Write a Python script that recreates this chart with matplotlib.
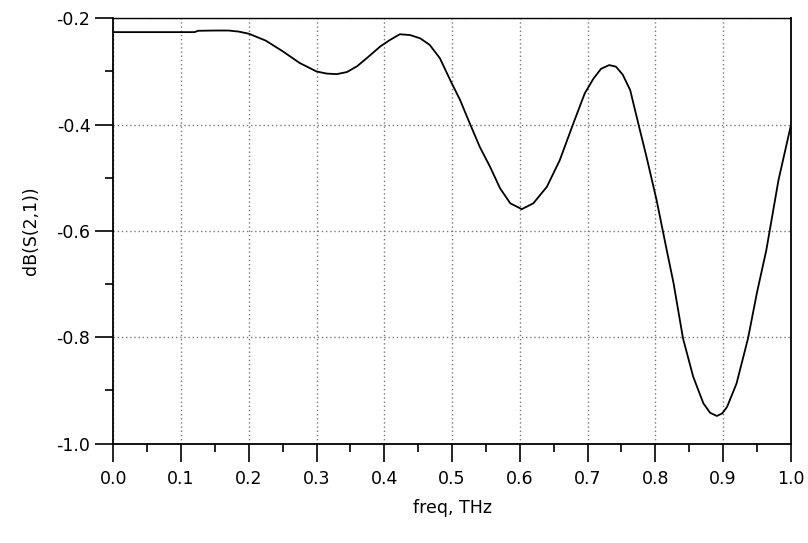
import matplotlib.pyplot as plt
from matplotlib.ticker import MultipleLocator

# curve
freq = [0.0, 0.05, 0.10, 0.12, 0.125, 0.15, 0.17, 0.185, 0.2, 0.225, 0.25,
        0.275, 0.3, 0.315, 0.33, 0.345, 0.36, 0.375, 0.394, 0.408, 0.423,
        0.438, 0.453, 0.467, 0.482, 0.4995, 0.512, 0.524, 0.541, 0.556,
        0.571, 0.586, 0.603, 0.620, 0.640, 0.659, 0.679, 0.696, 0.709,
        0.720, 0.732, 0.742, 0.752, 0.763, 0.775, 0.787, 0.802, 0.816,
        0.827, 0.841, 0.856, 0.871, 0.881, 0.891, 0.899, 0.906, 0.920,
        0.937, 0.950, 0.964, 0.982, 1.0]
s21 = [-0.226, -0.226, -0.226, -0.226, -0.2235, -0.223, -0.223, -0.225,
       -0.229, -0.242, -0.262, -0.284, -0.300, -0.304, -0.305, -0.301,
       -0.290, -0.274, -0.253, -0.241, -0.230, -0.2315, -0.2377, -0.250,
       -0.275, -0.322, -0.354, -0.391, -0.442, -0.479, -0.520, -0.548,
       -0.559, -0.548, -0.517, -0.467, -0.398, -0.341, -0.313, -0.295,
       -0.288, -0.291, -0.306, -0.335, -0.398, -0.460, -0.542, -0.630,
       -0.698, -0.802, -0.874, -0.924, -0.942, -0.948, -0.943, -0.931,
       -0.887, -0.802, -0.717, -0.636, -0.504, -0.403]

plt.rcParams['font.family'] = ['DejaVu Sans']

fig = plt.figure(figsize=(8.08, 5.43), dpi=100)
ax = fig.add_axes([0.1403, 0.183, 0.8383, 0.7833])

ax.plot(freq, s21, color='black', lw=1.3)

ax.set_xlim(0, 1.0)
ax.set_ylim(-1.0, -0.2)
ax.xaxis.set_major_locator(MultipleLocator(0.1))
ax.xaxis.set_minor_locator(MultipleLocator(0.05))
ax.yaxis.set_major_locator(MultipleLocator(0.2))
ax.yaxis.set_minor_locator(MultipleLocator(0.1))
ax.xaxis.set_major_formatter(plt.FormatStrFormatter('%.1f'))
ax.yaxis.set_major_formatter(plt.FormatStrFormatter('%.1f'))

ax.grid(True, which='major', color='#777777', linestyle=(0, (1, 2)), lw=1)
ax.tick_params(which='major', direction='out', length=13, width=1.2,
               labelsize=12.5, color='black')
ax.tick_params(axis='x', which='major', pad=6)
ax.tick_params(axis='y', which='major', pad=3.5)
ax.tick_params(which='minor', direction='out', length=6, width=1.2)

ax.spines['left'].set_linewidth(1.3)
ax.spines['bottom'].set_linewidth(1.3)
ax.spines['bottom'].set_linestyle((0, (2, 1)))
ax.spines['top'].set_linewidth(1.0)
ax.spines['top'].set_linestyle((0, (2, 1)))
ax.spines['right'].set_linewidth(1.3)
ax.spines['right'].set_linestyle((0, (2, 1)))

ax.set_xlabel('freq, THz', fontsize=12.5, labelpad=8)
ax.set_ylabel('dB(S(2,1))', fontsize=12.5, labelpad=12)

fig.savefig('out.png', dpi=100)
